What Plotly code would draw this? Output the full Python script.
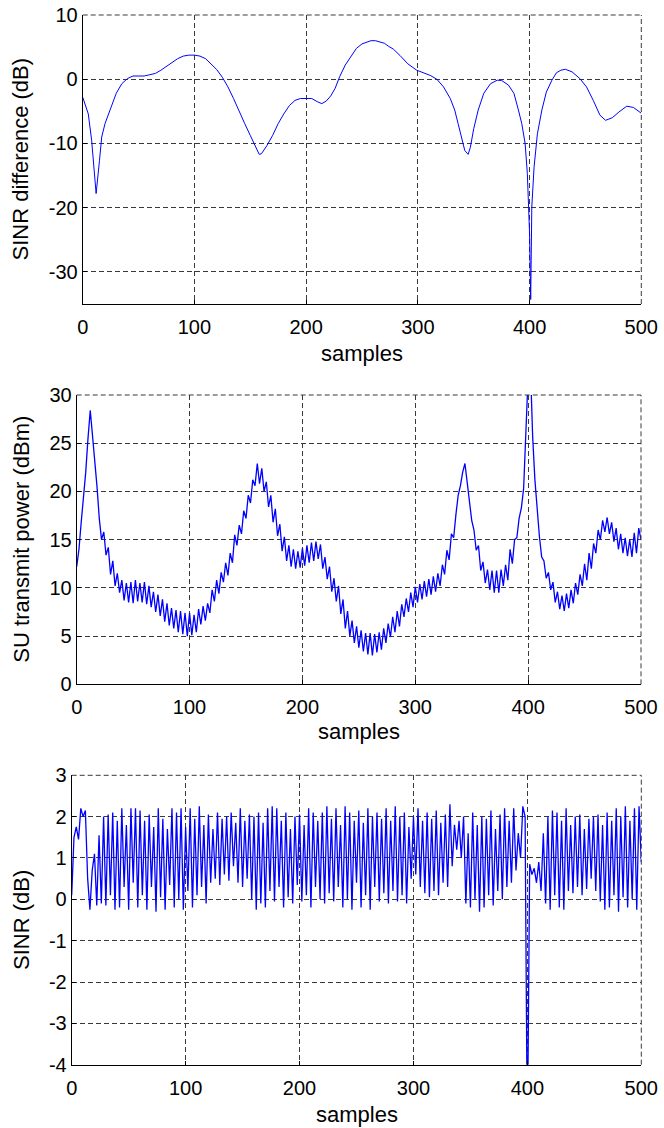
import plotly.graph_objects as go

# ---- data ----
# top panel: SINR difference (dB), smooth curve
diff_x = [0, 5, 8, 12, 15, 17, 20, 25, 30, 35, 40, 45, 50, 55, 60, 65, 70, 75, 80, 85,
          90, 95, 100, 105, 110, 115, 120, 125, 130, 135, 140, 145, 150, 155, 158, 160,
          165, 170, 175, 180, 185, 190, 195, 200, 205, 210, 214, 218, 222, 226, 230,
          235, 239, 245, 250, 254, 258, 262, 266, 270, 274, 278, 284, 291, 299, 305,
          311, 317, 323, 329, 333, 336, 339, 342, 345, 347, 350, 354, 359, 365, 371,
          375, 381, 386, 390, 393, 396, 398, 400, 401, 402, 404, 407, 411, 415, 420,
          424, 428, 432, 438, 445, 451, 457, 463, 468, 474, 480, 487, 493, 500]
diff_y = [-2.8, -5.4, -9.5, -17.8, -12.7, -9.0, -6.9, -4.6, -2.2, -0.7, 0.1, 0.5, 0.5, 0.5,
          0.7, 0.9, 1.4, 2.0, 2.7, 3.2, 3.6, 3.75, 3.75, 3.6, 3.2, 2.4, 1.5, 0.3, -1.2,
          -3.0, -5.1, -6.9, -8.75, -10.6, -11.7, -11.6, -10.3, -8.75, -6.9, -5.4, -4.1,
          -3.3, -3.0, -3.0, -3.0, -3.5, -3.8, -3.4, -2.6, -1.4, 0.4, 2.2, 3.2, 4.8, 5.5,
          5.8, 6.0, 6.0, 5.8, 5.6, 5.1, 4.7, 3.7, 2.4, 1.4, 1.0, 0.6, 0.0, -1.2, -3.0,
          -4.8, -6.9, -9.0, -11.1, -11.7, -10.6, -7.7, -4.8, -2.2, -0.7, -0.15, -0.2,
          -0.9, -2.2, -4.8, -6.9, -10.0, -14.7, -24.1, -34.3, -19.9, -13.7, -8.5, -4.8,
          -2.0, -0.15, 1.0, 1.4, 1.55, 1.15, 0.1, -1.2, -3.3, -5.6, -6.4, -6.0, -5.1,
          -4.2, -4.4, -5.3]

# middle and bottom panels sampled every 2 samples
samples = list(range(0, 501, 2))

power_dbm = [12.2, 14.0, 16.8, 19.3, 22.0,
             25.5, 28.4, 25.8, 23.5, 20.5,
             17.2, 15.0, 15.8, 13.4, 14.2,
             11.4, 12.8, 10.2, 11.5, 9.5,
             10.8, 8.7, 10.5, 8.5, 10.6,
             8.4, 10.8, 8.6, 10.5, 8.5,
             10.6, 8.3, 10.2, 8.0, 9.6,
             7.5, 9.3, 7.1, 8.8, 6.5,
             8.4, 6.1, 7.9, 5.8, 7.7,
             5.4, 7.6, 5.2, 7.4, 5.0,
             7.4, 5.1, 7.2, 5.4, 7.8,
             6.2, 8.1, 6.6, 8.4, 7.4,
             9.8, 8.6, 10.8, 9.4, 11.6,
             10.6, 12.6, 11.3, 13.6, 12.6,
             15.5, 14.4, 16.5, 15.6, 18.0,
             17.2, 19.6, 18.8, 21.2, 20.6,
             22.9, 20.8, 22.4, 20.0, 21.0,
             18.4, 19.6, 16.8, 18.2, 15.4,
             16.6, 13.8, 15.3, 12.8, 14.4,
             12.2, 14.0, 12.0, 13.8, 12.1,
             14.1, 12.3, 14.4, 12.6, 14.7,
             12.8, 14.8, 13.0, 14.5, 12.0,
             13.2, 10.9, 12.2, 9.6, 11.0,
             8.6, 10.2, 7.3, 8.8, 5.8,
             7.6, 5.0, 6.6, 4.3, 6.0,
             3.8, 5.6, 3.4, 5.3, 3.1,
             5.3, 3.0, 5.2, 3.3, 5.4,
             3.6, 5.8, 4.3, 6.3, 4.9,
             7.0, 5.4, 7.6, 6.0, 8.3,
             7.0, 8.9, 7.5, 9.5, 8.0,
             10.1, 8.5, 10.4, 8.8, 10.7,
             9.1, 10.9, 9.3, 11.2, 9.6,
             11.5, 10.2, 12.4, 11.4, 13.9,
             12.9, 15.6, 15.2, 17.6, 19.6,
             20.6, 22.0, 22.9, 20.8, 19.0,
             17.0, 16.0, 13.9, 14.4, 11.8,
             12.7, 10.5, 11.9, 9.8, 11.8,
             9.5, 11.8, 9.5, 11.9, 10.2,
             12.4, 10.8, 14.0, 12.5, 15.0,
             15.2, 17.2, 18.3, 20.3, 25.0,
             32.0, 33.0, 25.7, 21.2, 17.7,
             15.3, 13.2, 12.8, 11.0, 11.6,
             9.8, 10.6, 8.5, 9.6, 7.8,
             9.2, 7.6, 9.4, 7.9, 9.8,
             8.4, 10.5, 9.3, 11.4, 10.2,
             12.5, 10.8, 13.6, 12.0, 14.6,
             13.6, 16.0, 15.0, 17.0, 15.8,
             17.3, 15.6, 16.8, 14.8, 16.2,
             14.0, 15.6, 13.6, 15.2, 13.3,
             15.0, 13.2, 15.7, 13.6, 16.2,
             15.0]

sinr_db = [0.1, 1.5, 1.75, 1.45, 2.2,
           2.0, 2.15, 0.5, -0.25, 0.7,
           1.1, -0.15, 1.55, -0.1, 2.0,
           -0.15, 2.05, 0.1, 2.1, -0.25,
           1.9, -0.2, 2.2, 0.3, 1.8,
           -0.25, 2.2, 0.4, 2.2, -0.2,
           2.15, 0.1, 1.9, -0.25, 2.05,
           0.3, 1.75, -0.3, 2.2, 0.05,
           1.95, -0.25, 1.7, 0.35, 2.2,
           -0.2, 2.1, 0.0, 2.2, -0.25,
           1.75, 0.2, 2.2, -0.2, 1.95,
           0.1, 2.25, 0.3, 1.8, -0.1,
           2.05, 0.4, 1.7, 0.5, 2.1,
           0.35, 1.95, 0.6, 2.0, 0.45,
           2.1, 0.8, 1.85, 0.4, 2.2,
           0.3, 1.9, 0.5, 2.05, 0.0,
           2.0, -0.25, 2.1, -0.1, 1.85,
           -0.2, 2.2, 0.2, 2.25, -0.05,
           2.2, 0.3, 1.9, -0.2, 2.1,
           0.05, 1.7, -0.1, 2.0, 0.35,
           2.05, -0.05, 1.8, 0.1, 2.2,
           -0.2, 2.1, 0.3, 1.9, 0.0,
           2.1, -0.1, 2.25, 0.15, 1.95,
           -0.05, 2.2, 0.3, 1.8, -0.2,
           2.25, 0.0, 2.1, -0.25, 1.9,
           0.4, 2.15, -0.2, 1.85, 0.1,
           2.2, -0.25, 2.0, 0.3, 2.1,
           -0.05, 1.95, 0.15, 2.2, -0.1,
           1.9, 0.2, 2.25, -0.05, 2.0,
           0.1, 2.1, -0.1, 1.75, 0.5,
           2.0, 0.6, 2.2, 0.3, 1.9,
           0.15, 2.1, 0.05, 1.95, 0.2,
           2.15, 0.1, 1.85, 0.4, 2.05,
           0.3, 2.3, 0.8, 1.8, 1.2,
           1.9, 1.0, 2.0, -0.1, 1.6,
           -0.2, 2.1, 0.0, 1.8, -0.3,
           2.0, -0.2, 1.95, 0.1, 2.15,
           -0.15, 1.7, 0.2, 2.05, 0.0,
           2.2, 0.3, 1.9, 0.4, 2.2,
           0.7, 1.6, 1.0, 2.25, 2.0,
           -6.0, 0.85, 0.6, 0.75, 0.4,
           0.9, 0.2, 1.6, -0.1, 2.0,
           -0.25, 2.15, 0.1, 2.1, -0.2,
           1.9, -0.25, 2.2, 0.2, 1.8,
           0.15, 2.0, 0.3, 2.05, 0.1,
           1.7, 0.25, 1.95, 0.5, 2.0,
           0.2, 2.05, -0.05, 1.8, -0.25,
           2.1, -0.2, 1.9, 0.1, 2.2,
           -0.3, 2.0, 0.05, 2.25, -0.2,
           1.9, 0.0, 2.2, -0.25, 2.25,
           0.9]

# axis ticks (hyphen minus, as in the original)
x_ticks = [0, 100, 200, 300, 400, 500]
y1_ticks = [-30, -20, -10, 0, 10]
y2_ticks = [0, 5, 10, 15, 20, 25, 30]
y3_ticks = [-4, -3, -2, -1, 0, 1, 2, 3]

ylabels = ["SINR difference (dB)", "SU transmit power (dBm)", "SINR (dB)"]
xlabel = "samples"

# ---- layout geometry (pixels in a 664x1128 page) ----
W, H = 664, 1128
FONT = "Liberation Sans, Arial, Helvetica, sans-serif"
panels = [
    dict(x=(82.7, 641.3), y=(15, 304), rng=[-35, 10], ticks=y1_ticks, ttl_x=20, xl_y=353, lw=1.0),
    dict(x=(76.7, 641.0), y=(395, 684.3), rng=[0, 30], ticks=y2_ticks, ttl_x=22, xl_y=731, lw=1.3),
    dict(x=(71.7, 641.3), y=(775.3, 1064.7), rng=[-4, 3], ticks=y3_ticks, ttl_x=21, xl_y=1114, lw=1.3),
]

fig = go.Figure()
series = [(diff_x, diff_y), (samples, power_dbm), (samples, sinr_db)]
for i, (xs, ys) in enumerate(series):
    n = "" if i == 0 else str(i + 1)
    fig.add_trace(go.Scatter(x=xs, y=ys, mode="lines", xaxis="x" + n, yaxis="y" + n,
                             line=dict(color="#0000ff", width=panels[i]["lw"]),
                             showlegend=False, hoverinfo="skip"))

axis_common = dict(
    showline=True, linecolor="black", linewidth=1,
    ticks="inside", ticklen=4, tickcolor="black", automargin=False,
    showgrid=True, gridcolor="#3a3a3a", gridwidth=1, griddash="5px,3px",
    zeroline=False, tickfont=dict(family=FONT, size=20, color="black"),
)
grid_line = dict(color="#3a3a3a", width=1, dash="5px,3px")

annotations = []
shapes = []
for i, p in enumerate(panels):
    n = "" if i == 0 else str(i + 1)
    xd = [p["x"][0] / W, p["x"][1] / W]
    yd = [1 - p["y"][1] / H, 1 - p["y"][0] / H]
    fig.layout["xaxis" + n] = dict(domain=xd, range=[0, 500], tickvals=x_ticks,
                                    ticktext=[str(v) for v in x_ticks], ticklabelstandoff=5,
                                    anchor="y" + n, **axis_common)
    fig.layout["yaxis" + n] = dict(domain=yd, range=p["rng"], tickvals=p["ticks"],
                                    ticktext=[str(v) for v in p["ticks"]],
                                    anchor="x" + n, **axis_common)
    # dashed top and right edges (grid lines at the range limits)
    shapes.append(dict(type="line", xref="x" + n + " domain", yref="y" + n + " domain",
                       x0=0, x1=1, y0=1, y1=1, line=grid_line))
    shapes.append(dict(type="line", xref="x" + n + " domain", yref="y" + n + " domain",
                       x0=1, x1=1, y0=0, y1=1, line=grid_line))
    annotations.append(dict(text=ylabels[i], x=p["ttl_x"] / W, y=1 - (p["y"][0] + p["y"][1]) / 2 / H,
                            xref="paper", yref="paper", textangle=-90, showarrow=False,
                            xanchor="center", yanchor="middle",
                            font=dict(family=FONT, size=22, color="black")))
    annotations.append(dict(text=xlabel, x=(p["x"][0] + p["x"][1]) / 2 / W, y=1 - p["xl_y"] / H,
                            xref="paper", yref="paper", showarrow=False,
                            xanchor="center", yanchor="middle",
                            font=dict(family=FONT, size=22, color="black")))

fig.update_layout(
    width=W, height=H,
    margin=dict(l=0, r=0, t=0, b=0, pad=0, autoexpand=False),
    paper_bgcolor="white", plot_bgcolor="white",
    annotations=annotations,
    shapes=shapes,
)

# drop the default page margin so the figure sits at the window's corner
fig.write_html("out.html", config=dict(displayModeBar=False),
               post_script="document.body.style.margin = '0';")
